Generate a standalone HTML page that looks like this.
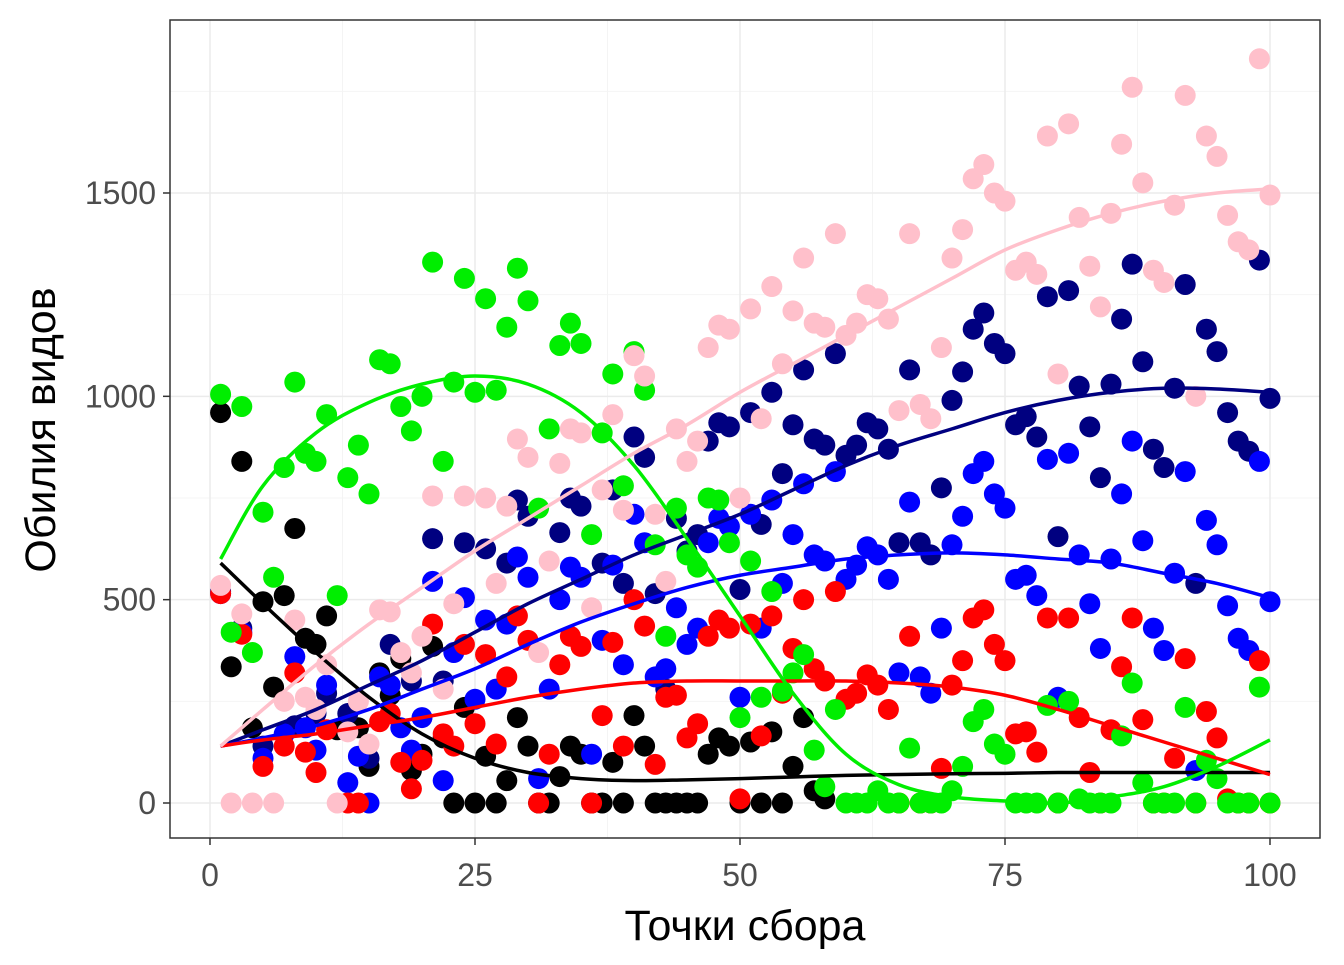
<!DOCTYPE html>
<html><head><meta charset="utf-8"><style>
body{margin:0;background:#fff}
svg text{font-family:"Liberation Sans",sans-serif}
</style></head><body>
<svg id="chart" width="1344" height="960" xmlns="http://www.w3.org/2000/svg"></svg>
<script>
const xTicks=[0,25,50,75,100];
const yTicks=[0,500,1000,1500];
const xMinor=[12.5,37.5,62.5,87.5];
const yMinor=[250,750,1250,1750];
const blackX=[1,2,3,4,5,6,7,8,9,10,11,12,13,14,15,16,17,18,19,20,21,22,23,24,25,26,27,28,29,30,31,32,33,34,35,36,37,38,39,40,41,42,43,44,45,46,47,48,49,50,51,52,53,54,55,56,57,58];
const blackY=[960,335,840,185,495,285,510,675,405,390,460,180,200,185,90,320,265,355,80,120,385,160,0,235,0,115,0,55,210,140,0,0,65,140,120,0,0,100,0,215,140,0,0,0,0,0,120,160,140,0,150,0,175,0,90,210,30,10];
const navyX=[1,3,5,8,10,11,13,15,17,19,21,22,24,26,28,29,30,33,34,35,37,38,39,40,41,42,43,44,45,46,47,48,49,50,51,52,53,54,55,56,57,58,59,60,61,62,63,64,65,66,67,68,69,70,71,72,73,74,75,76,77,78,79,80,81,82,83,84,85,86,87,88,89,90,91,92,93,94,95,96,97,98,99,100];
const navyY=[520,430,140,190,220,270,220,110,390,300,650,300,640,625,590,745,705,665,750,730,590,770,540,900,850,515,280,700,620,660,890,935,925,525,960,685,1010,810,930,1065,895,880,1105,855,880,935,920,870,640,1065,640,610,775,990,1060,1165,1205,1130,1105,930,950,900,1245,655,1260,1025,925,800,1030,1190,1325,1085,870,825,1020,1275,540,1165,1110,960,890,865,1335,995];
const blueX=[1,3,5,7,8,9,10,11,13,14,15,16,17,18,19,20,21,22,23,24,25,26,27,28,29,30,31,32,33,34,35,36,37,38,39,40,41,42,43,44,45,46,47,48,49,50,51,52,53,54,55,56,57,58,59,60,61,62,63,64,65,66,67,68,69,70,71,72,73,74,75,76,77,78,79,80,81,82,83,84,85,86,87,88,89,90,91,92,93,94,95,96,97,98,99,100];
const blueY=[515,420,110,170,360,185,130,290,50,115,0,310,290,185,130,210,545,55,370,505,255,450,280,440,605,555,60,280,500,580,555,120,400,585,340,710,640,310,330,480,390,430,640,700,680,260,710,430,745,540,660,785,610,595,815,550,585,630,610,550,320,740,310,270,430,635,705,810,840,760,725,550,560,510,845,260,860,610,490,380,600,760,890,645,430,375,565,815,80,695,635,485,405,375,840,495];
const redX=[1,3,5,7,8,9,10,11,13,14,16,17,18,19,20,21,22,23,24,25,26,27,28,29,30,31,32,33,34,35,36,37,38,39,40,41,42,43,44,45,46,47,48,49,50,51,52,53,54,55,56,57,58,59,60,61,62,63,64,65,66,67,68,69,70,71,72,73,74,75,76,77,78,79,80,81,82,83,84,85,86,87,88,89,90,91,92,93,94,95,96,97,98,99,100];
const redY=[515,415,90,140,320,125,75,180,0,0,200,220,100,35,105,440,170,140,390,195,365,145,310,460,400,0,120,340,410,385,0,215,395,140,500,435,95,260,265,160,195,410,450,430,10,440,165,460,270,380,500,330,300,520,255,270,315,290,230,0,410,0,0,85,290,350,455,475,390,350,170,175,125,455,0,455,210,75,0,180,335,455,205,0,0,110,355,0,225,160,10,0,0,350,0];
const greenX=[1,2,3,4,5,6,7,8,9,10,11,12,13,14,15,16,17,18,19,20,21,22,23,24,25,26,27,28,29,30,31,32,33,34,35,36,37,38,39,40,41,42,43,44,45,46,47,48,49,50,51,52,53,54,55,56,57,58,59,60,61,62,63,64,65,66,67,68,69,70,71,72,73,74,75,76,77,78,79,80,81,82,83,84,85,86,87,88,89,90,91,92,93,94,95,96,97,98,99,100];
const greenY=[1005,420,975,370,715,555,825,1035,860,840,955,510,800,880,760,1090,1080,975,915,1000,1330,840,1035,1290,1010,1240,1015,1170,1315,1235,725,920,1125,1180,1130,660,910,1055,780,1110,1015,635,410,725,610,580,750,745,640,210,595,260,520,275,320,365,130,40,230,0,0,0,30,0,0,135,0,0,0,30,90,200,230,145,120,0,0,0,240,0,250,10,0,0,0,165,295,50,0,0,0,235,0,105,60,0,0,0,285,0];
const pinkX=[1,3,2,4,6,7,8,9,10,11,12,13,14,15,16,17,18,19,20,21,22,23,24,26,27,28,29,30,31,32,33,34,35,36,37,38,39,40,41,42,43,44,45,46,47,48,49,50,51,52,53,54,55,56,57,58,59,60,61,62,63,64,65,66,67,68,69,70,71,72,73,74,75,76,77,78,79,80,81,82,83,84,85,86,87,88,89,90,91,92,93,94,95,96,97,98,99,100];
const pinkY=[535,465,0,0,0,250,450,260,230,340,0,175,250,145,475,470,370,320,410,755,280,490,755,750,540,730,895,850,370,595,835,920,910,480,770,955,720,1100,1050,710,545,920,840,890,1120,1175,1165,750,1215,945,1270,1080,1210,1340,1180,1170,1400,1150,1180,1250,1240,1190,965,1400,980,945,1120,1340,1410,1535,1570,1500,1480,1310,1330,1300,1640,1055,1670,1440,1320,1220,1450,1620,1760,1525,1310,1280,1470,1740,1000,1640,1590,1445,1380,1360,1830,1495];
const curveX=[1,5,10,15,20,25,30,35,40,45,50,55,60,65,70,75,80,85,90,95,100];
const blackCurve=[590,490,370,260,170,110,75,60,55,57,60,64,68,70,72,73,75,75,75,75,75];
const greenCurve=[600,780,910,985,1030,1050,1030,960,830,650,460,270,120,45,15,5,0,15,40,90,155];
const pinkCurve=[140,230,340,440,530,620,700,780,860,930,1010,1080,1150,1220,1290,1360,1410,1450,1480,1500,1510];
const navyCurve=[140,180,230,290,350,420,490,550,610,660,710,770,830,880,920,960,990,1010,1020,1018,1010];
const blueCurve=[140,160,190,230,280,330,390,445,490,530,560,580,600,610,615,610,600,590,565,540,505];
const redCurve=[140,155,170,190,210,235,260,280,295,300,300,300,300,295,285,265,230,190,150,110,70];

const NS="http://www.w3.org/2000/svg";
const svg=document.getElementById('chart');
const L=170,R=1320,T=20,B=838;
const sx=v=>210+v*10.6;
const sy=v=>803-v*0.40667;
function mk(tag,attrs,parent){const e=document.createElementNS(NS,tag);for(const k in attrs)e.setAttribute(k,attrs[k]);(parent||svg).appendChild(e);return e;}
const bg=mk('rect',{x:L,y:T,width:R-L,height:B-T,fill:'#fff'});


const grid=mk('g',{});


xMinor.forEach(v=>mk('line',{x1:sx(v),x2:sx(v),y1:T,y2:B,stroke:'#f4f4f4','stroke-width':1},grid));
yMinor.forEach(v=>{if(sy(v)>T)mk('line',{x1:L,x2:R,y1:sy(v),y2:sy(v),stroke:'#f4f4f4','stroke-width':1},grid)});
xTicks.forEach(v=>mk('line',{x1:sx(v),x2:sx(v),y1:T,y2:B,stroke:'#ebebeb','stroke-width':1.5},grid));
yTicks.forEach(v=>mk('line',{x1:L,x2:R,y1:sy(v),y2:sy(v),stroke:'#ebebeb','stroke-width':1.5},grid));
function pts(xs,ys,col,name){const g=mk('g',{fill:col});


xs.forEach((x,i)=>{const c=mk('circle',{cx:sx(x),cy:sy(ys[i]),r:10.5},g);

});}
pts(blackX,blackY,'#000000','black');
pts(navyX,navyY,'#000080','navy');
pts(blueX,blueY,'#0000ff','blue');
pts(redX,redY,'#ff0000','red');
pts(greenX,greenY,'#00ee00','green');
pts(pinkX,pinkY,'#ffc0cb','pink');
function curve(ys,col,name){let d='M'+sx(curveX[0])+','+sy(ys[0]);
for(let i=1;i<curveX.length;i++){const x0=sx(curveX[i-1]),y0=sy(ys[i-1]),x1=sx(curveX[i]),y1=sy(ys[i]);
const xm=sx(curveX[Math.max(0,i-2)]),ym=sy(ys[Math.max(0,i-2)]),xp=sx(curveX[Math.min(curveX.length-1,i+1)]),yp=sy(ys[Math.min(curveX.length-1,i+1)]);
d+=' C'+(x0+(x1-xm)/6)+','+(y0+(y1-ym)/6)+' '+(x1-(xp-x0)/6)+','+(y1-(yp-y0)/6)+' '+x1+','+y1;}
const p=mk('path',{d:d,fill:'none',stroke:col,'stroke-width':3.5,'stroke-linejoin':'round'});

}
curve(blackCurve,'#000000','black');
curve(navyCurve,'#000080','navy');
curve(blueCurve,'#0000ff','blue');
curve(redCurve,'#ff0000','red');
curve(greenCurve,'#00ee00','green');
curve(pinkCurve,'#ffc0cb','pink');
const border=mk('rect',{x:L,y:T,width:R-L,height:B-T,fill:'none',stroke:'#333','stroke-width':1.5});


const xa=mk('g',{});


xTicks.forEach(v=>{mk('line',{x1:sx(v),x2:sx(v),y1:B,y2:B+7,stroke:'#333','stroke-width':1.5},xa);
const t=mk('text',{x:sx(v),y:886,'text-anchor':'middle','font-size':32,fill:'#4d4d4d'},xa);t.textContent=v;

});
const ya=mk('g',{});


yTicks.forEach(v=>{mk('line',{x1:L-7,x2:L,y1:sy(v),y2:sy(v),stroke:'#333','stroke-width':1.5},ya);
const t=mk('text',{x:L-14,y:sy(v)+11,'text-anchor':'end','font-size':32,fill:'#4d4d4d'},ya);t.textContent=v;

});
const xt=mk('text',{x:745,y:940,'text-anchor':'middle','font-size':43,fill:'#000'});xt.textContent='Точки сбора';


const yt=mk('text',{x:0,y:0,'text-anchor':'middle','font-size':43,fill:'#000',transform:'translate(55,430) rotate(-90)'});yt.textContent='Обилия видов';


</script>
</body></html>
